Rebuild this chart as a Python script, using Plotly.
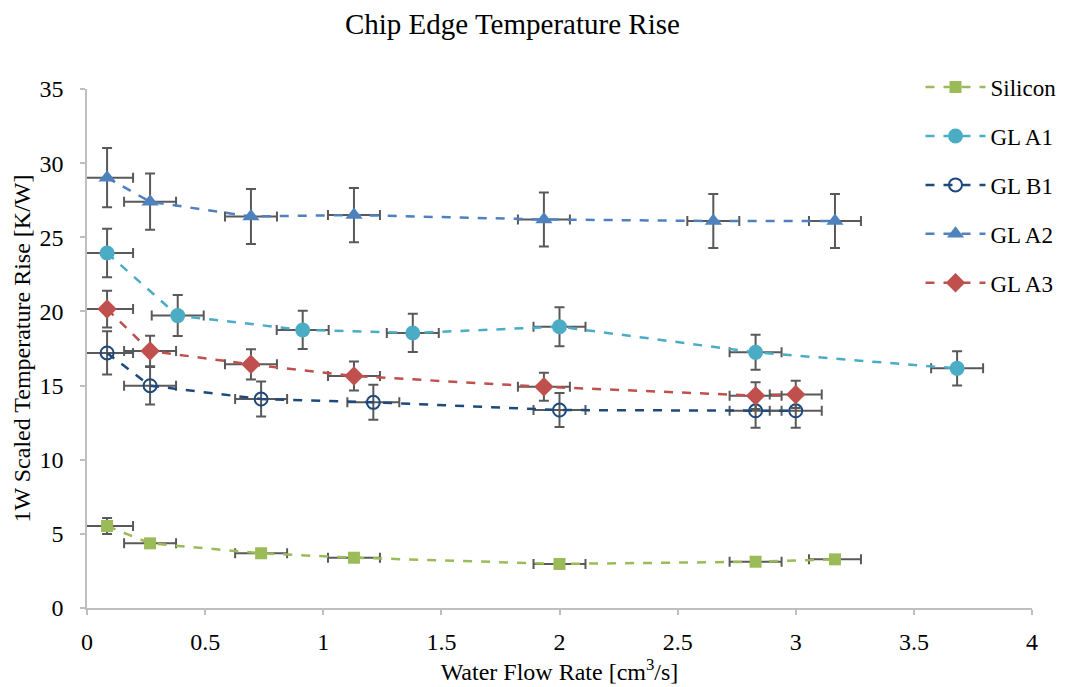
import plotly.graph_objects as go

series_names = ["Silicon", "GL A1", "GL B1", "GL A2", "GL A3"]

si_x = [0.085, 0.267, 0.737, 1.13, 2.0, 2.83, 3.166]
si_y = [5.53, 4.36, 3.69, 3.39, 2.97, 3.12, 3.28]
si_ey = [0.54, 0.2, 0.2, 0.2, 0.2, 0.2, 0.2]

a1_x = [0.085, 0.384, 0.913, 1.379, 2.0, 2.83, 3.683]
a1_y = [23.94, 19.72, 18.75, 18.55, 18.97, 17.24, 16.16]
a1_ey = [1.63, 1.38, 1.29, 1.29, 1.31, 1.18, 1.15]

b1_x = [0.085, 0.267, 0.737, 1.212, 2.0, 2.83, 3.0]
b1_y = [17.2, 14.99, 14.09, 13.87, 13.35, 13.3, 13.3]
b1_ey = [1.46, 1.27, 1.18, 1.18, 1.15, 1.15, 1.15]

a2_x = [0.085, 0.267, 0.694, 1.13, 1.934, 2.651, 3.166]
a2_y = [29.02, 27.4, 26.4, 26.5, 26.2, 26.1, 26.1]
a2_ey = [2.0, 1.9, 1.85, 1.83, 1.82, 1.82, 1.82]

a3_x = [0.085, 0.267, 0.694, 1.13, 1.934, 2.83, 3.0]
a3_y = [20.16, 17.33, 16.43, 15.64, 14.92, 14.32, 14.4]
a3_ey = [1.24, 1.03, 1.02, 0.98, 0.94, 0.9, 0.92]

x_err = 0.11

fig = go.Figure()

specs = [
    (series_names[0], si_x, si_y, si_ey, "#9BBB59", dict(symbol="square", size=12, color="#9BBB59")),
    (series_names[1], a1_x, a1_y, a1_ey, "#4BACC6", dict(symbol="circle", size=15, color="#4BACC6")),
    (series_names[2], b1_x, b1_y, b1_ey, "#1F497D", dict(symbol="circle-open", size=13, color="#1F497D", line=dict(width=2, color="#1F497D"))),
    (series_names[3], a2_x, a2_y, a2_ey, "#4F81BD", dict(symbol="triangle-up", size=15, color="#4F81BD")),
    (series_names[4], a3_x, a3_y, a3_ey, "#C0504D", dict(symbol="diamond", size=15, color="#C0504D")),
]

for name, xs, ys, eys, col, mk in specs:
    fig.add_trace(go.Scatter(
        x=xs, y=ys, name=name, mode="lines+markers",
        legendgroup=name,
        line=dict(color=col, width=2.5, dash="dash"),
        marker=mk,
        error_y=dict(type="data", array=eys, color="#595959", thickness=2, width=5),
        error_x=dict(type="constant", value=x_err, color="#595959", thickness=2, width=5),
    ))

font_family = "Liberation Serif"

fig.update_layout(
    width=1072, height=687,
    paper_bgcolor="white", plot_bgcolor="white",
    margin=dict(l=87, r=40, t=89, b=79, autoexpand=False),
    font=dict(family=font_family, size=23, color="#000000"),
    title=dict(text="Chip Edge Temperature Rise", x=0.478, xref="container",
               xanchor="center", y=0.966, yref="container", yanchor="middle",
               font=dict(size=29, family=font_family)),
    showlegend=True,
    legend=dict(x=0.882, y=1.045, xanchor="left", yanchor="top",
                tracegroupgap=16, itemwidth=60,
                font=dict(size=23, family=font_family),
                bgcolor="rgba(0,0,0,0)"),
)

fig.update_xaxes(
    range=[0, 4], dtick=0.5, tick0=0,
    showgrid=False, zeroline=False, automargin=False,
    showline=True, linecolor="#BFBFBF", linewidth=1.5,
    ticks="outside", tickcolor="#BFBFBF", ticklen=5, tickwidth=1.5,
    ticklabelstandoff=6,
    tickfont=dict(size=24, family=font_family),
    title=dict(text="Water Flow Rate [cm<sup>3</sup>/s]", standoff=8,
               font=dict(size=24, family=font_family)),
)
fig.update_yaxes(
    range=[0, 35], dtick=5, tick0=0,
    showgrid=False, zeroline=False, automargin=False,
    showline=True, linecolor="#BFBFBF", linewidth=1.5,
    ticks="outside", tickcolor="#BFBFBF", ticklen=5, tickwidth=1.5,
    ticklabelstandoff=12,
    tickfont=dict(size=24, family=font_family),
    title=dict(text="1W Scaled Temperature Rise [K/W]", standoff=2,
               font=dict(size=24, family=font_family)),
)

fig.write_html("out.html")
